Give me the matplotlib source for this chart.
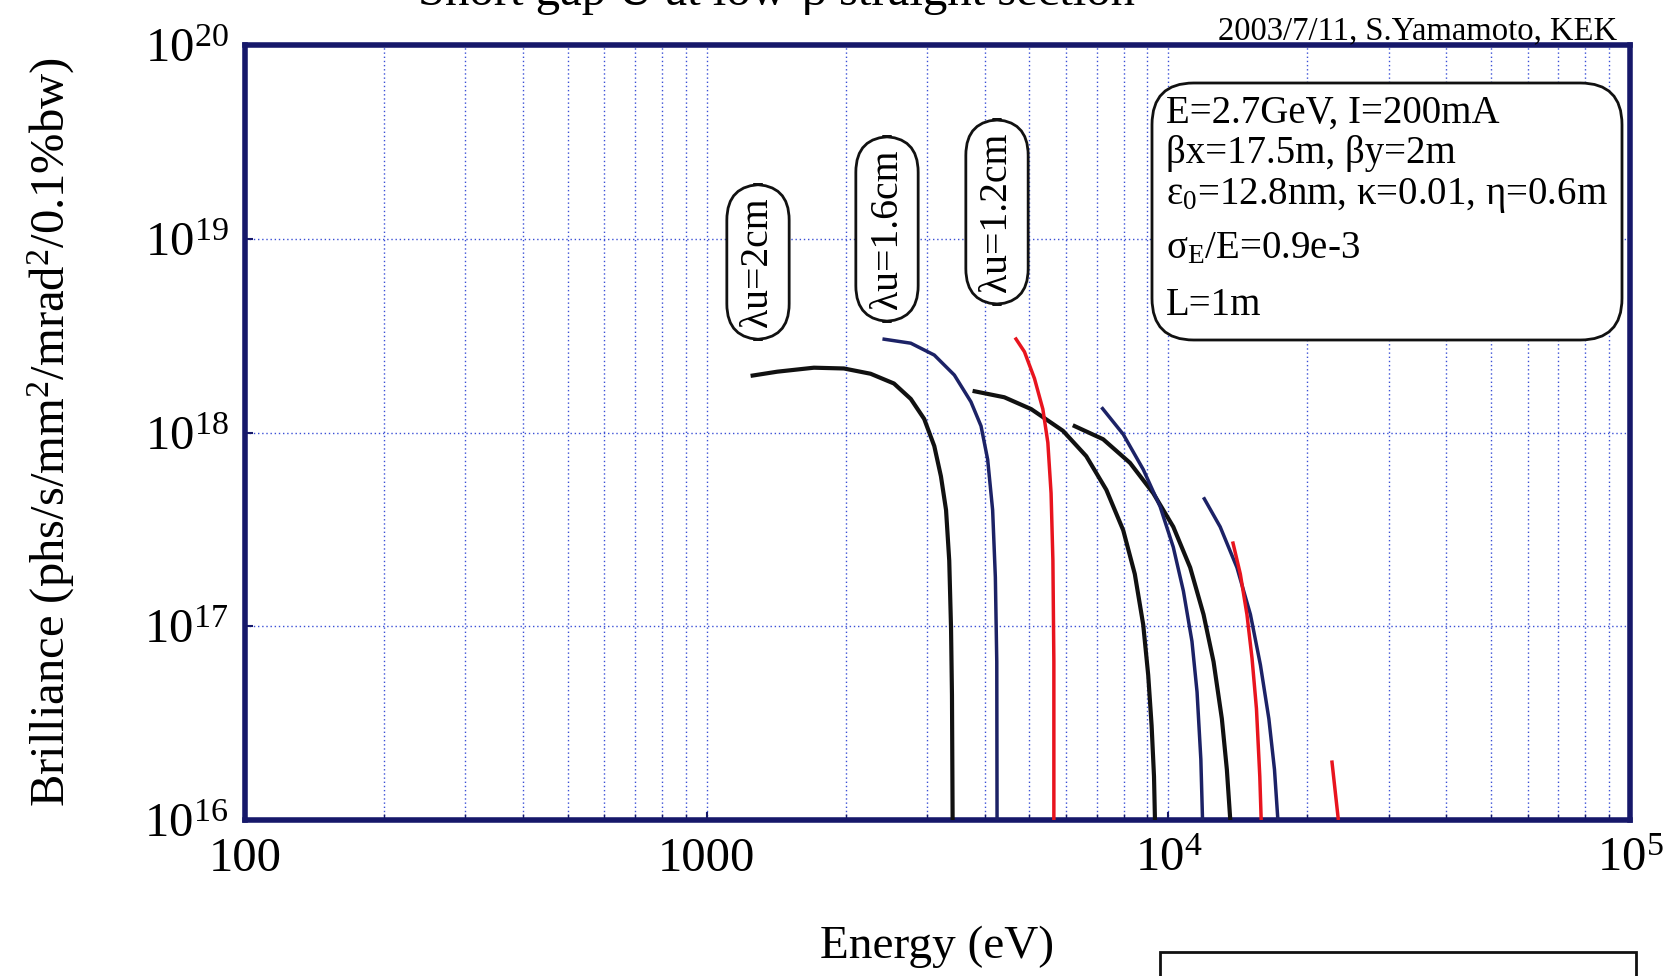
import matplotlib
matplotlib.use("Agg")
import matplotlib.pyplot as plt
from matplotlib.patches import FancyBboxPatch, Rectangle

plt.rcParams['font.family'] = ['Liberation Serif', 'DejaVu Serif']
plt.rcParams['mathtext.fontset'] = 'custom'
plt.rcParams['mathtext.rm'] = 'Liberation Serif'
plt.rcParams['mathtext.it'] = 'Liberation Serif:italic'
plt.rcParams['mathtext.bf'] = 'Liberation Serif:bold'

# ---- data (energy in eV, brilliance) ----
# lambda_u = 2 cm (black): harmonics 1, 3, 5
bk1_E = [1245, 1422, 1707, 1983, 2265, 2545, 2768, 2959, 3112, 3217, 3300, 3353, 3383, 3399, 3410]
bk1_B = [1.96e18, 2.06e18, 2.16e18, 2.14e18, 2.01e18, 1.79e18, 1.49e18, 1.175e18, 8.51e17,
         5.94e17, 3.98e17, 2.18e17, 9.79e16, 4.40e16, 1.0e16]
bk3_E = [3767, 4413, 5047, 5913, 6640, 7340, 7985, 8460, 8822, 9045, 9200, 9310, 9355]
bk3_B = [1.64e18, 1.52e18, 1.32e18, 1.02e18, 7.55e17, 5.06e17, 3.13e17, 1.86e17, 1.02e17,
         5.6e16, 3.07e16, 1.68e16, 1.0e16]
bk5_E = [6210, 7224, 8260, 9275, 10250, 11150, 11920, 12530, 13060, 13390, 13620]
bk5_B = [1.09e18, 9.23e17, 6.97e17, 4.86e17, 3.26e17, 2.01e17, 1.15e17, 6.56e16, 3.33e16,
         1.82e16, 1.0e16]
# lambda_u = 1.6 cm (navy): harmonics 1, 3, 5
bl1_E = [2403, 2768, 3112, 3439, 3736, 3929, 4061, 4163, 4220, 4250, 4256]
bl1_B = [3.04e18, 2.89e18, 2.51e18, 1.98e18, 1.44e18, 1.08e18, 7.26e17, 3.98e17, 1.79e17,
         6.56e16, 1.0e16]
bl3_E = [7165, 7985, 8825, 9600, 10250, 10780, 11250, 11540, 11760, 11860]
bl3_B = [1.35e18, 9.79e17, 6.44e17, 4.14e17, 2.56e17, 1.52e17, 8.36e16, 4.58e16, 2.06e16, 1.0e16]
bl5_E = [11915, 12950, 14080, 15060, 15830, 16510, 16980, 17270]
bl5_B = [4.63e17, 3.26e17, 2.01e17, 1.15e17, 6.31e16, 3.33e16, 1.82e16, 1.0e16]
# lambda_u = 1.2 cm (red): harmonics 1, 3, 5
rd1_E = [4656, 4879, 5129, 5348, 5483, 5572, 5623, 5650, 5650]
rd1_B = [3.09e18, 2.61e18, 1.90e18, 1.32e18, 8.87e17, 4.86e17, 2.18e17, 6.56e16, 1.0e16]
rd3_E = [13780, 14320, 14800, 15180, 15520, 15780, 15890]
rd3_B = [2.74e17, 1.86e17, 1.15e17, 6.84e16, 3.75e16, 1.68e16, 1.0e16]
rd5_E = [22600, 23350]
rd5_B = [2.03e16, 1.0e16]

x_ticks = [100, 1000, 1e4, 1e5]
x_ticklabels = ['100', '1000', '$10^4$', '$10^5$']
y_ticks = [1e16, 1e17, 1e18, 1e19, 1e20]
y_ticklabels = ['$10^{16}$', '$10^{17}$', '$10^{18}$', '$10^{19}$', '$10^{20}$']

labels_lu = ['λu=2cm', 'λu=1.6cm', 'λu=1.2cm']
param_lines = ['E=2.7GeV, I=200mA',
               'βx=17.5m, βy=2m',
               'ε$_0$=12.8nm, κ=0.01, η=0.6m',
               'σ$_\\mathrm{E}$/E=0.9e-3',
               'L=1m']

BLACK = '#111111'
NAVY = '#1c2266'
RED = '#e8141e'
FRAME = '#16186a'
GRID = '#3a4fd6'

W, H = 1668, 976
fig = plt.figure(figsize=(W / 100, H / 100), dpi=100)
ax = fig.add_axes([245 / W, 1 - 820 / H, (1630 - 245) / W, (820 - 45) / H])
ax.set_xscale('log')
ax.set_yscale('log')
ax.set_xlim(100, 1e5)
ax.set_ylim(1e16, 1e20)

for E, B in [(bk1_E, bk1_B), (bk3_E, bk3_B), (bk5_E, bk5_B)]:
    ax.plot(E, B, color=BLACK, lw=3.0, solid_capstyle='butt', solid_joinstyle='round', zorder=3)
for E, B in [(bl1_E, bl1_B), (bl3_E, bl3_B), (bl5_E, bl5_B)]:
    ax.plot(E, B, color=NAVY, lw=2.5, solid_capstyle='butt', solid_joinstyle='round', zorder=3)
for E, B in [(rd1_E, rd1_B), (rd3_E, rd3_B), (rd5_E, rd5_B)]:
    ax.plot(E, B, color=RED, lw=2.5, solid_capstyle='butt', solid_joinstyle='round', zorder=3)

ax.set_xticks(x_ticks)
ax.set_xticklabels(x_ticklabels)
ax.set_yticks(y_ticks)
ax.set_yticklabels(y_ticklabels)
ax.yaxis.set_minor_locator(matplotlib.ticker.NullLocator())
ax.tick_params(axis='both', which='major', labelsize=35, direction='in',
               length=6, width=1.5, color=FRAME)
ax.tick_params(axis='x', which='minor', direction='in', length=4, width=1.0, color=FRAME)
ax.tick_params(axis='x', which='minor', labelbottom=False)
ax.tick_params(axis='x', which='major', pad=12)
ax.tick_params(axis='y', which='major', pad=12)

ax.grid(True, which='major', axis='both', color=GRID, lw=1.0, linestyle=(0, (1, 2)))
ax.grid(True, which='minor', axis='x', color=GRID, lw=1.0, linestyle=(0, (1, 2)))
for s in ax.spines.values():
    s.set_color(FRAME)
    s.set_linewidth(4)

ax.set_xlabel('Energy (eV)', fontsize=34, labelpad=32)
ax.set_ylabel('Brilliance (phs/s/mm$^2$/mrad$^2$/0.1%bw)', fontsize=35)
ax.yaxis.set_label_coords((77 - 245) / (1630 - 245), 0.5)

# cut-off title
fig.text(776 / W, 1 - 5 / H, 'Short gap U at low-β straight section', fontsize=35,
         ha='center', va='baseline')
fig.text(1617 / W, 1 - 39 / H, '2003/7/11, S.Yamamoto, KEK', fontsize=23.5,
         ha='right', va='baseline')

# lambda_u label boxes
lu_pos = [(758, 262), (887, 229), (997, 212)]
for (px, py), txt in zip(lu_pos, labels_lu):
    fig.text(px / W, 1 - py / H, txt, fontsize=28.5, rotation=90, ha='center', va='center',
             bbox=dict(boxstyle='round,pad=0.32,rounding_size=0.9', fc='white',
                       ec='#111111', lw=2.0), zorder=5)

# parameter box
box = FancyBboxPatch((1152 / W, 1 - 340 / H), (1622 - 1152) / W, (340 - 83) / H,
                     boxstyle='round,pad=0,rounding_size=0.025', transform=fig.transFigure,
                     fc='white', ec='#111111', lw=2.0, zorder=5,
                     mutation_aspect=W / H)
fig.add_artist(box)
baselines = [123, 163, 204, 258, 315]
for yb, line in zip(baselines, param_lines):
    fig.text(1166 / W, 1 - yb / H, line, fontsize=28, ha='left', va='baseline', zorder=6)

# partial empty box at bottom right
fig.add_artist(Rectangle((1160 / W, -0.01), (1636 - 1160) / W, 0.01 + 24 / H,
                         transform=fig.transFigure, fill=False, ec='#111111', lw=2.0))

fig.savefig('out.png', dpi=100)
